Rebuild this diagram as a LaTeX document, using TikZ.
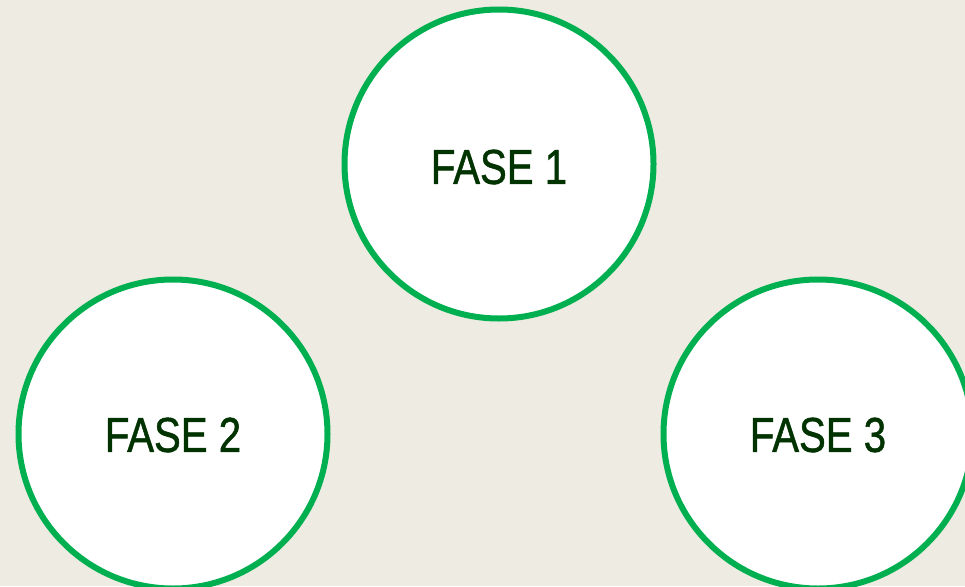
\documentclass[tikz,border=0pt]{standalone}
\usepackage{fontspec}
\setmainfont{Liberation Sans}
\definecolor{bg}{HTML}{EDEBE2}
\definecolor{ring}{HTML}{00B050}
\definecolor{txt}{HTML}{003300}
\begin{document}
\begin{tikzpicture}[x=1pt,y=-1pt,
  phase/.style={circle,draw=ring,line width=6pt,fill=white,minimum size=309pt,inner sep=0pt},
  lbl/.style={text=txt,font=\fontsize{49}{49}\selectfont\addfontfeature{FakeBold=1.2},xscale=0.82}]
\fill[bg] (0,0) rectangle (965,586);
\useasboundingbox (0,0) rectangle (965,586);
\node[phase] (c1) at (499,164) {};
\node[phase] (c2) at (173,434) {};
\node[phase] (c3) at (818,434) {};
\node[lbl] (t1) at ([yshift=-3pt]c1) {FASE 1};
\node[lbl] (t2) at ([yshift=-1pt]c2) {FASE 2};
\node[lbl] (t3) at ([yshift=-1pt]c3) {FASE 3};
\end{tikzpicture}
\end{document}
